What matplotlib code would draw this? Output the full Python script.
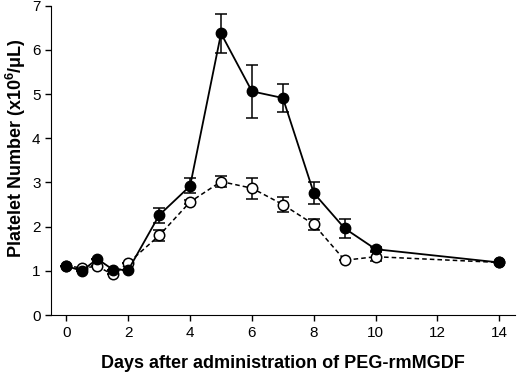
import matplotlib

matplotlib.use("Agg")

import matplotlib.pyplot as plt

plt.rcParams["font.family"] = ["Liberation Sans", "DejaVu Sans"]
plt.rcParams["mathtext.fontset"] = "custom"
plt.rcParams["mathtext.bf"] = "Liberation Sans:bold"
plt.rcParams["mathtext.rm"] = "Liberation Sans"

days_filled = [0, 0.5, 1, 1.5, 2, 3, 4, 5, 6, 7, 8, 9, 10, 14]
filled = [1.11, 1.0, 1.27, 1.03, 1.02, 2.26, 2.92, 6.37, 5.06, 4.91, 2.76, 1.96, 1.49, 1.19]
filled_err = [0, 0, 0, 0, 0, 0.17, 0.17, 0.45, 0.6, 0.32, 0.25, 0.21, 0.05, 0]

days_open = [0, 0.5, 1, 1.5, 2, 3, 4, 5, 6, 7, 8, 9, 10, 14]
opened = [1.11, 1.07, 1.1, 0.92, 1.18, 1.8, 2.56, 3.02, 2.87, 2.5, 2.05, 1.24, 1.32, 1.19]
open_err = [0, 0, 0, 0, 0, 0.12, 0.05, 0.12, 0.24, 0.16, 0.12, 0, 0.1, 0]

xticks = [0, 2, 4, 6, 8, 10, 12, 14]
yticks = [0, 1, 2, 3, 4, 5, 6, 7]

fig = plt.figure(figsize=(5.2, 3.72), dpi=100)
ax = fig.add_axes([0.098, 0.153, 0.892, 0.832])

ax.errorbar(days_open, opened, yerr=open_err, color="black", linestyle=(0, (3, 2)),
            linewidth=1.1, marker="o", markersize=7.5, markerfacecolor="white",
            markeredgecolor="black", markeredgewidth=1.1, capsize=4, elinewidth=1.1,
            capthick=1.1, zorder=2)
ax.errorbar(days_filled, filled, yerr=filled_err, color="black", linestyle="-",
            linewidth=1.3, marker="o", markersize=7.5, markerfacecolor="black",
            markeredgecolor="black", capsize=4, elinewidth=1.1, capthick=1.1, zorder=3)

ax.set_xlim(-0.5, 14.5)
ax.set_ylim(0, 7)
ax.set_xticks(xticks)
ax.set_yticks(yticks)
ax.spines["top"].set_visible(False)
ax.spines["right"].set_visible(False)
ax.tick_params(labelsize=11, length=4, width=1)
ax.set_xlabel("Days after administration of PEG-rmMGDF", fontsize=13, fontweight="bold")
ax.set_ylabel(r"Platelet Number (x10$^{\mathbf{6}}$/μL)", fontsize=13, fontweight="bold")
ax.xaxis.set_label_coords(0.5, -0.128)
ax.yaxis.set_label_coords(-0.05, 0.54)

fig.savefig("out.png", dpi=100)
